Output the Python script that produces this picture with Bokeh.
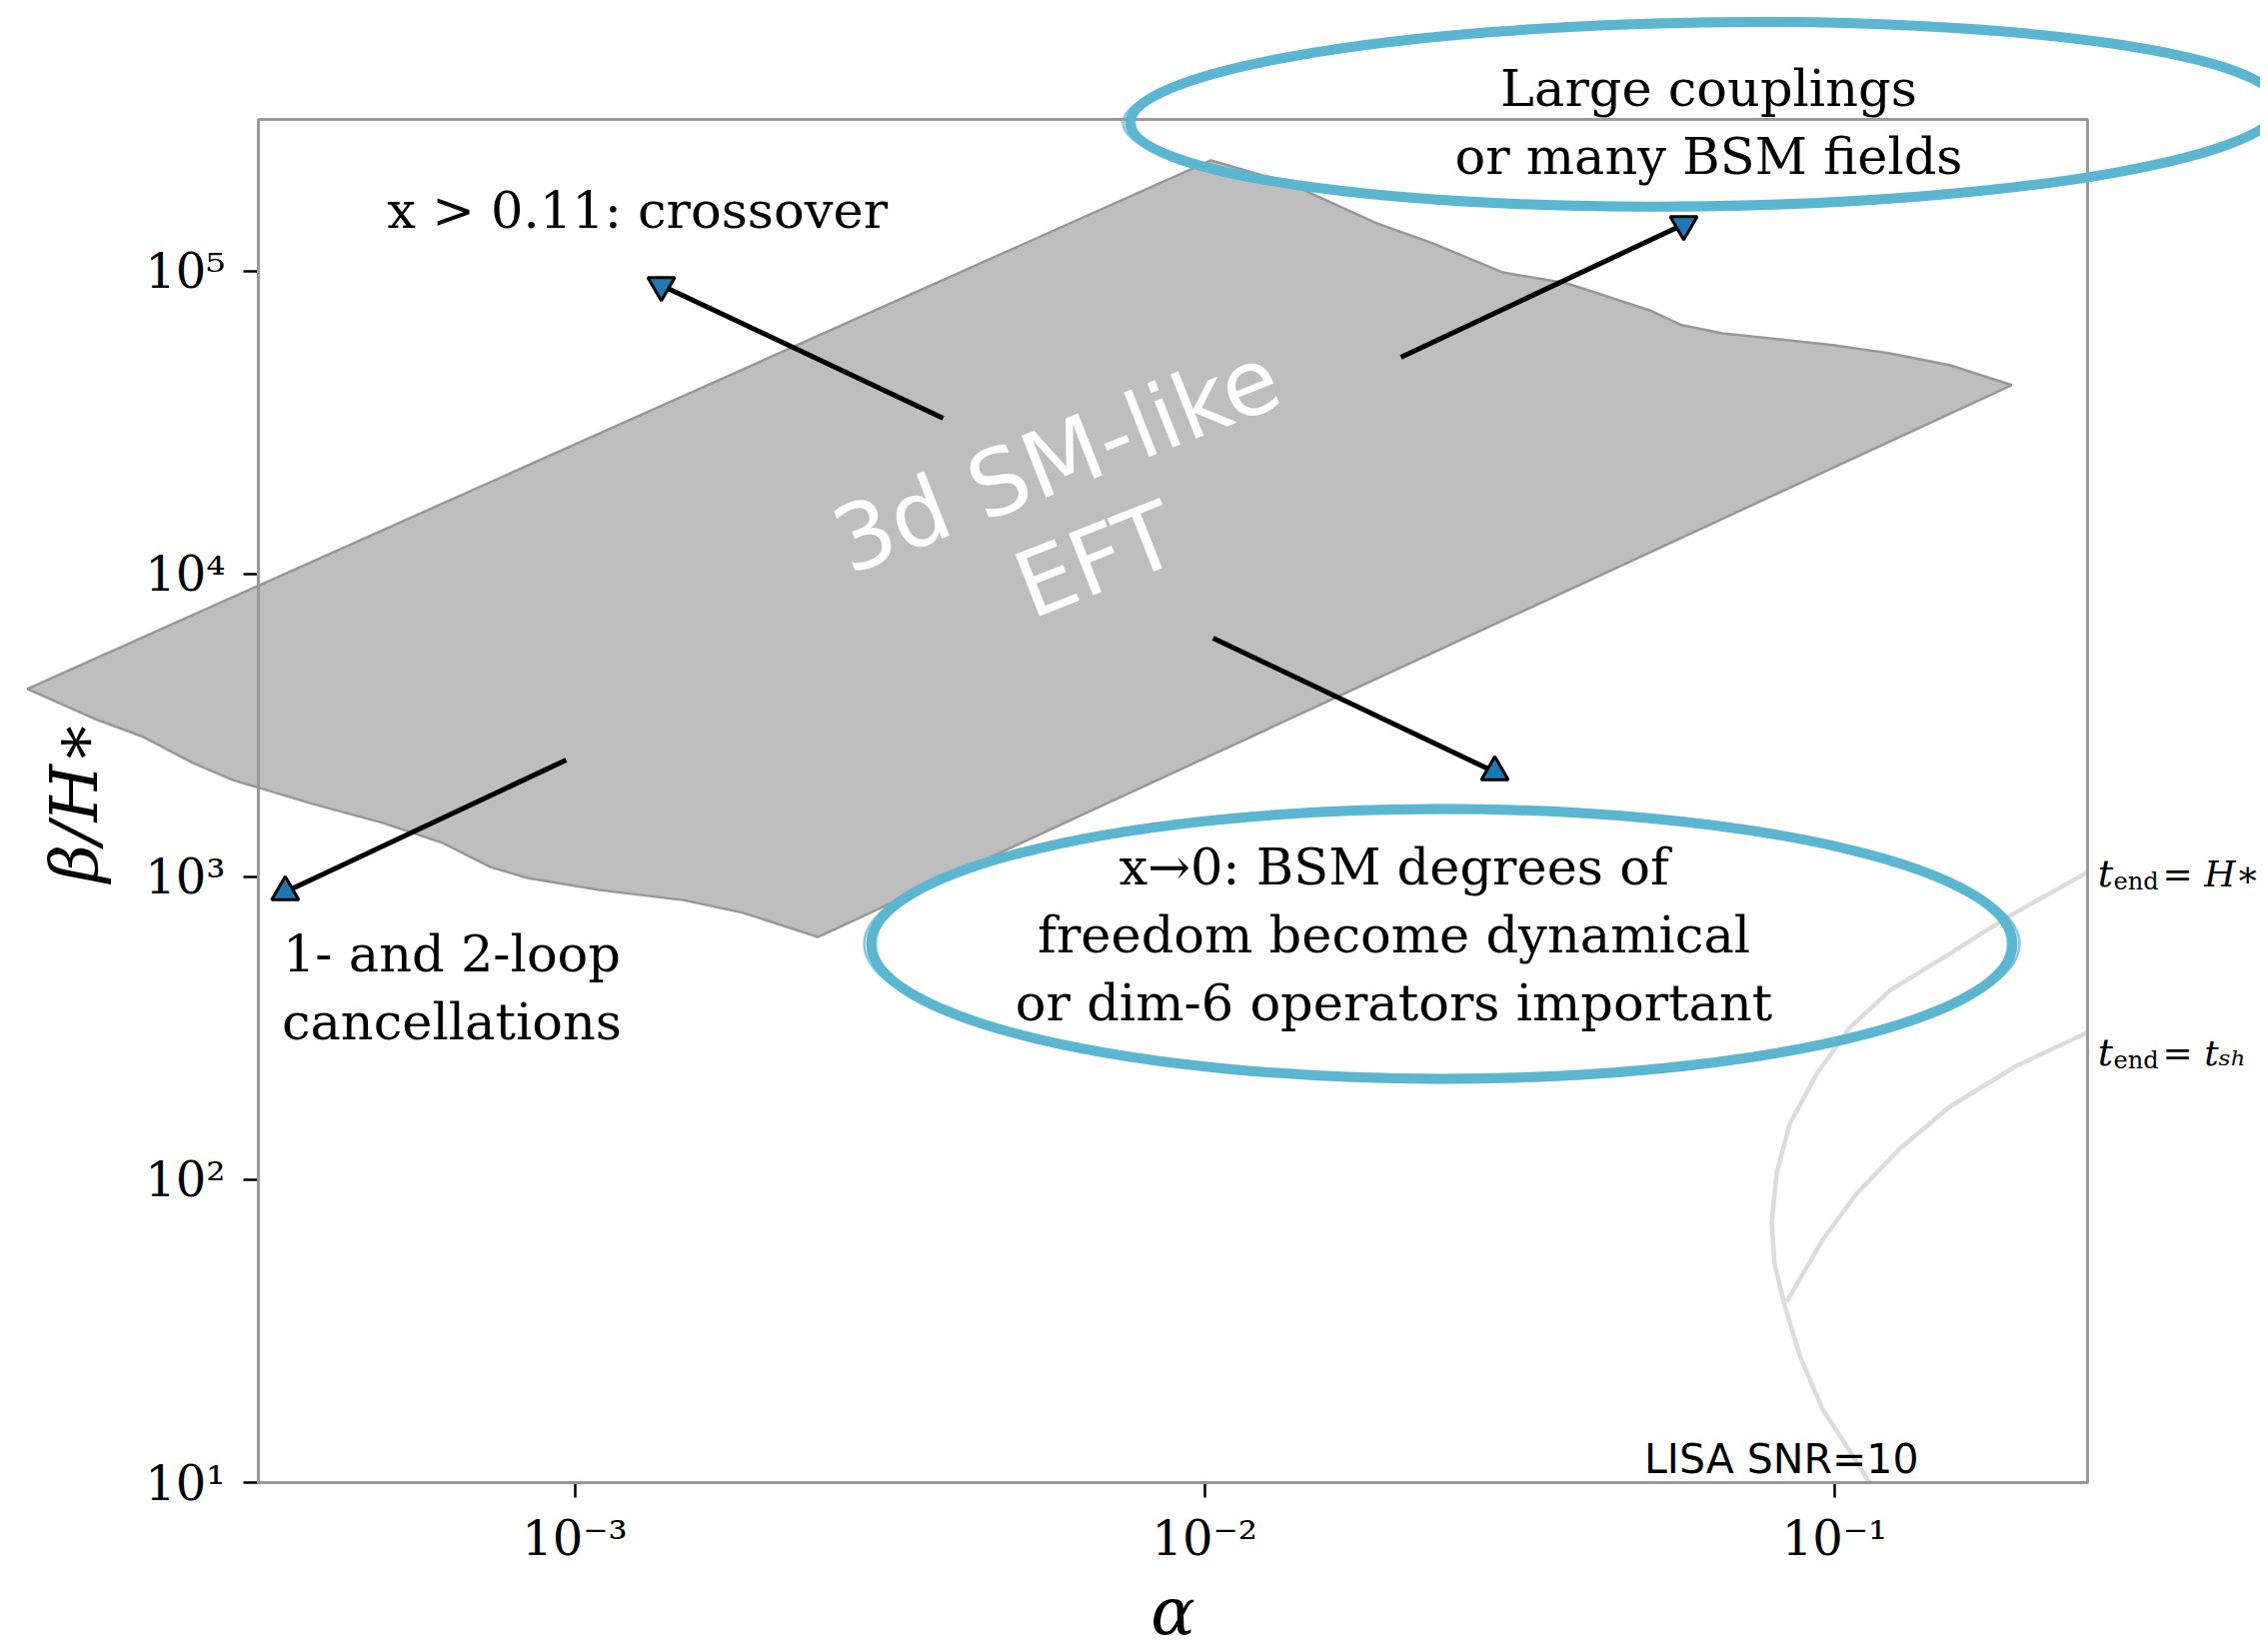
import numpy as np
from bokeh.plotting import figure
from bokeh.models import Range1d, FixedTicker, CustomJSTickFormatter
from bokeh.core.properties import value
from bokeh.embed import file_html
from bokeh.resources import INLINE

# ---------------- data ----------------
alpha_range = (3.146e-4, 0.2520)
beta_range = (10.0, 3.162e5)
alpha_ticks = [1e-3, 1e-2, 1e-1]
beta_ticks = [1e1, 1e2, 1e3, 1e4, 1e5]

# 3d SM-like EFT region (outline, clockwise from left tip)
region_alpha = [1.352e-4, 0.01023, 0.01351, 0.01875, 0.02301, 0.02972, 0.03758,
                0.05082, 0.05715, 0.06637, 0.09931, 0.1222, 0.1521, 0.1910,
                0.002432, 0.001849, 0.001486, 0.001096, 0.000841, 0.000735,
                0.000618, 0.000497, 0.000380, 0.000287, 0.000248, 0.000207,
                0.000175]
region_beta = [4169, 231700, 195900, 143600, 123300, 98860, 90990,
               74130, 66220, 62230, 56890, 53460, 48870, 41980,
               632.4, 760.3, 837.5, 903.6, 990.8, 1076,
               1291, 1503, 1750, 2084, 2371, 2891,
               3289]

# LISA SNR=10 curves
tend_H_alpha = [0.2730, 0.2492, 0.1895, 0.1522, 0.1222, 0.1056, 0.09363, 0.08485,
                0.08091, 0.07943, 0.08031, 0.08330, 0.08802, 0.09572, 0.1056,
                0.1136, 0.1200]
tend_H_beta = [1109, 1022, 742.6, 556.5, 420.2, 317.1, 223.5, 152.9,
               105.4, 72.08, 52.39, 38.37, 26.24, 17.41, 12.75,
               10.0, 8.45]
tend_sh_alpha = [0.2730, 0.2492, 0.1944, 0.1522, 0.1268, 0.1083, 0.09572, 0.08392]
tend_sh_beta = [331.9, 302.9, 237.6, 174.0, 126.5, 89.84, 63.35, 39.56]

# arrows (tail -> head)
arrow_tail_alpha = [0.003844, 0.02048, 0.01031, 0.000969]
arrow_tail_beta = [32640, 51860, 6136, 2429]
arrow_head_alpha = [0.001372, 0.05759, 0.02887, 0.000347]
arrow_head_beta = [89650, 142500, 2217, 891]
arrow_head_marker = ["inverted_triangle", "inverted_triangle", "triangle", "triangle"]

# highlight ellipses (centre in data units, size in screen px)
ellipse_alpha = [0.06218, 0.02379]
ellipse_beta = [328700, 600.3]
ellipse_w = [1150, 1142]
ellipse_h = [184, 270]
ellipse_angle = [0.015, 0.0]

# ---------------- figure ----------------
p = figure(x_axis_type="log", y_axis_type="log",
           x_range=Range1d(*alpha_range), y_range=Range1d(*beta_range),
           frame_width=1830, frame_height=1364,
           min_border_left=258, min_border_right=173,
           min_border_top=119, min_border_bottom=160,
           output_backend="svg", toolbar_location=None)
p.grid.visible = False
p.outline_line_color = None
p.background_fill_color = "white"
p.border_fill_color = "white"

tick_fmt = CustomJSTickFormatter(code="""
const sup = {'-':'\u207b','0':'\u2070','1':'\u00b9','2':'\u00b2','3':'\u00b3',
             '4':'\u2074','5':'\u2075','6':'\u2076','7':'\u2077','8':'\u2078','9':'\u2079'};
const e = Math.round(Math.log10(tick));
return '10' + String(e).split('').map(c => sup[c]).join('');
""")

for ax, ticks in ((p.xaxis, alpha_ticks), (p.yaxis, beta_ticks)):
    ax.ticker = FixedTicker(ticks=ticks, minor_ticks=[])
    ax.formatter = tick_fmt
    ax.axis_line_color = None
    ax.major_tick_line_color = "black"
    ax.major_tick_line_width = 2.5
    ax.major_tick_out = 15
    ax.major_tick_in = 0
    ax.minor_tick_line_color = None
    ax.major_label_text_font = "DejaVu Serif"
    ax.major_label_text_font_size = "48px"
    ax.major_label_text_color = "black"
    ax.axis_label_text_font = "DejaVu Serif"
    ax.axis_label_text_font_style = "italic"
    ax.axis_label_text_font_size = "66px"
    ax.axis_label_text_color = "black"

p.xaxis.axis_label = "\u03b1"
p.yaxis.axis_label = "\u03b2/H\u2217"
p.xaxis.major_label_standoff = 12
p.yaxis.major_label_standoff = 18
p.xaxis.axis_label_standoff = 4
p.yaxis.axis_label_standoff = 29

# region (unclipped so it can extend left of the frame)
p.patch(region_alpha, region_beta, fill_color="#bebebe", line_color="#979797",
        line_width=2.5, level="guide")

# frame box drawn over the region
x0, x1 = alpha_range
y0, y1 = beta_range
p.patch([x0, x1, x1, x0, x0], [y0, y0, y1, y1, y0], fill_color=None,
        line_color="#999999", line_width=3, level="annotation")

# LISA curves
p.line(tend_H_alpha, tend_H_beta, line_color="#dcdcdc", line_width=4.5)
p.line(tend_sh_alpha, tend_sh_beta, line_color="#dcdcdc", line_width=4.5)

# arrows
p.segment(x0=arrow_tail_alpha, y0=arrow_tail_beta, x1=arrow_head_alpha,
          y1=arrow_head_beta, line_color="black", line_width=5, level="overlay")
p.scatter(arrow_head_alpha, arrow_head_beta, marker=arrow_head_marker, size=27,
          fill_color="#1f77b4", line_color="black", line_width=3, level="overlay")

# hand-drawn style ellipses
blue = "#5bb6d1"
p.ellipse(x=ellipse_alpha, y=ellipse_beta, width=ellipse_w, height=ellipse_h,
          angle=ellipse_angle, width_units="screen", height_units="screen",
          fill_color=None, line_color=blue, line_width=10, level="overlay")
p.ellipse(x=ellipse_alpha, y=ellipse_beta, width=[w + 14 for w in ellipse_w],
          height=[h - 4 for h in ellipse_h], angle=ellipse_angle,
          width_units="screen", height_units="screen",
          fill_color=None, line_color=blue, line_width=2.5, line_alpha=0.75, level="overlay")
p.ellipse(x=ellipse_alpha, y=ellipse_beta, width=[w - 10 for w in ellipse_w],
          height=[h + 8 for h in ellipse_h], angle=ellipse_angle,
          width_units="screen", height_units="screen",
          fill_color=None, line_color=blue, line_width=2, line_alpha=0.6, level="overlay")


def txt(x, y, s, font="DejaVu Serif", size="51px", color="black", align="center",
        baseline="middle", style="normal", angle=0.0, lh=1.15):
    p.text(x=[x], y=[y], text=[s], text_font=value(font), text_font_size=value(size),
           text_color=color, text_align=align, text_baseline=baseline,
           text_font_style=style, angle=angle, text_line_height=lh, level="overlay")


txt(0.001257, 158500, "x > 0.11: crossover")
txt(0.0631, 309000, "Large couplings\nor many BSM fields")
txt(0.01997, 642.0, "x\u21920: BSM degrees of\nfreedom become dynamical\nor dim-6 operators important")
txt(0.0006378, 429.7, "1- and 2-loop\ncancellations")
txt(0.00625, 16260, "3d SM-like\nEFT", font="DejaVu Sans", size="91px",
    color="white", angle=0.375, lh=1.03)
txt(0.1359, 11.91, "LISA SNR=10", font="DejaVu Sans", size="41px", align="right")

# t_end labels outside the frame
for yb, ys, rest in ((1022, 961.4, "= H\u2217"), (262.2, 246.8, "= t\u209b\u2095")):
    txt(0.2615, yb, "t", size="38px", align="left", style="italic")
    txt(0.2772, ys, "end", size="24px", align="left")
    txt(0.3315, yb, rest, size="36px", align="left", style="italic")

open("out.html", "w").write(file_html(p, INLINE))
